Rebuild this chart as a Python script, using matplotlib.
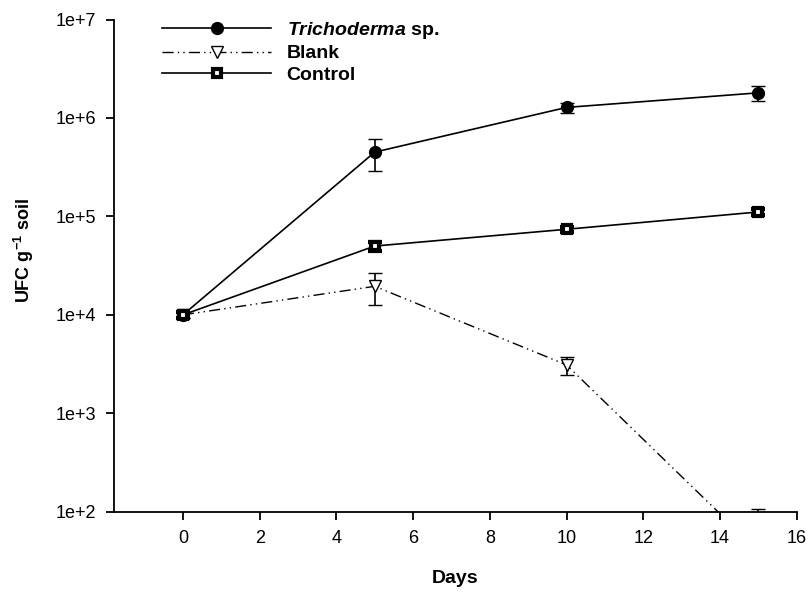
import matplotlib
matplotlib.use("Agg")
import matplotlib.pyplot as plt
import numpy as np
from matplotlib.lines import Line2D
from matplotlib.ticker import FixedLocator, FuncFormatter, NullLocator

plt.rcParams['font.family'] = ['Liberation Sans', 'DejaVu Sans']
plt.rcParams['mathtext.fontset'] = 'custom'
plt.rcParams['mathtext.rm'] = 'Liberation Sans'
plt.rcParams['mathtext.bf'] = 'Liberation Sans:bold'
plt.rcParams['mathtext.bfit'] = 'Liberation Sans:italic:bold'

days = [0, 5, 10, 15]

tricho = [1.0e4, 4.5e5, 1.28e6, 1.8e6]
tricho_err = [800, 1.6e5, 1.5e5, 3.0e5]

blank = [1.0e4, 1.95e4, 3.1e3, 40]
blank_err = [800, 7.0e3, 650, 66]

control = [1.0e4, 5.0e4, 7.4e4, 1.11e5]
control_err = [800, 5.0e3, 4.0e3, 8.0e3]

y_ticks = [1e2, 1e3, 1e4, 1e5, 1e6, 1e7]
x_ticks = [0, 2, 4, 6, 8, 10, 12, 14, 16]

dashdotdot = (0, (8, 3, 1, 3, 1, 3))

fig = plt.figure(figsize=(8.08, 5.92), dpi=100)
ax = fig.add_axes([0.141, 0.1356, 0.845, 0.8314])

tri_style = dict(color='black', lw=1.2, marker='o', ms=8.5, mfc='black', mec='black')
blk_style = dict(color='black', lw=1.0, marker='v', ms=9, mfc='white', mec='black',
                 linestyle=dashdotdot)
ctl_style = dict(color='black', lw=1.2, marker='s', ms=6, mfc='white', mec='black', mew=3)

ax.errorbar(days, tricho, yerr=tricho_err, capsize=5, elinewidth=1.2, zorder=3, **tri_style)
ax.errorbar(days, blank, yerr=blank_err, capsize=5, elinewidth=1.2, zorder=3, **blk_style)
ax.errorbar(days, control, yerr=control_err, capsize=5, elinewidth=1.2, zorder=3, **ctl_style)

ax.set_yscale('log')
ax.set_ylim(1e2, 1e7)
ax.set_xlim(-1.8, 16)
ax.yaxis.set_major_locator(FixedLocator(y_ticks))
ax.yaxis.set_minor_locator(NullLocator())
ax.yaxis.set_major_formatter(FuncFormatter(lambda v, p: '1e+%d' % round(np.log10(v))))
ax.set_xticks(x_ticks)

for s in ['top', 'right']:
    ax.spines[s].set_visible(False)
for s in ['left', 'bottom']:
    ax.spines[s].set_linewidth(1.3)
ax.tick_params(direction='out', length=6, width=1.3, labelsize=13, pad=7)

ax.set_xlabel('Days', fontsize=14, fontweight='bold', labelpad=17)
ax.set_ylabel(r'UFC g$^{\mathbf{-1}}$ soil', fontsize=13, fontweight='bold')
ax.yaxis.set_label_coords(-0.114, 0.53)

handles = [Line2D([], [], **tri_style), Line2D([], [], **blk_style), Line2D([], [], **ctl_style)]
labels = [r'$\mathbfit{Trichoderma}$ sp.', 'Blank', 'Control']
ax.legend(handles, labels, loc='upper left', bbox_to_anchor=(0.045, 1.035), frameon=False,
          numpoints=1, handlelength=5.6, prop={'size': 14, 'weight': 'bold'},
          labelspacing=0.2, handletextpad=0.8)

fig.savefig('out.png', dpi=100)
